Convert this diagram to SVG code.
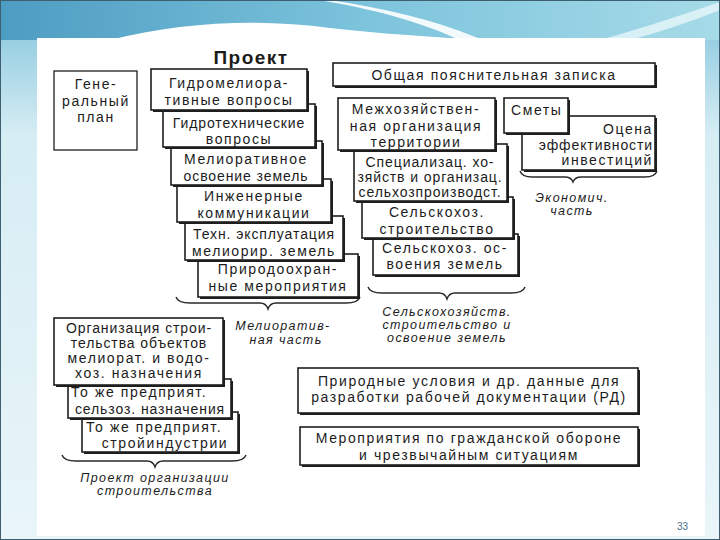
<svg xmlns="http://www.w3.org/2000/svg" width="720" height="540" viewBox="0 0 720 540">
<defs>
<linearGradient id="hdr" x1="0" y1="0" x2="1" y2="0">
<stop offset="0" stop-color="#4d9cc2"/>
<stop offset="0.5" stop-color="#7cc3dc"/>
<stop offset="1" stop-color="#a6dbe8"/>
</linearGradient>
<linearGradient id="side" x1="0" y1="0" x2="0" y2="1">
<stop offset="0" stop-color="#7fc2da"/>
<stop offset="0.25" stop-color="#d6edf4"/>
<stop offset="1" stop-color="#e9f5f9"/>
</linearGradient>
<style>
.sh{fill:#1e1e1e}
.bx{fill:#fff;stroke:#1e1e1e;stroke-width:1.6}
.t{font-family:"Liberation Sans",Arial,sans-serif;font-size:14px;fill:#1c1c1c;letter-spacing:1.6px}
.c{text-anchor:middle}
.r{text-anchor:end}
.n{letter-spacing:0.9px}
.i{font-style:italic;font-size:12.5px;letter-spacing:1.4px}
.br{fill:none;stroke:#2a2a2a;stroke-width:1.4}
</style>
</defs>
<!-- slide background -->
<rect x="0" y="0" width="720" height="540" fill="url(#side)"/>
<rect x="0" y="0" width="720" height="40" fill="url(#hdr)"/>
<path d="M330,0 C380,8 430,18 478,38 L455,38 C420,22 370,8 318,0 Z" fill="#ffffff" opacity="0.9"/>
<path d="M110,40 C180,22 260,18 330,28 C380,34 430,36 470,40 Z" fill="#ffffff"/>
<path d="M600,40 C650,26 690,12 720,2 L720,10 C690,22 660,32 630,40 Z" fill="#e6f6fa" opacity="0.8"/>
<rect x="37" y="38" width="668" height="498" fill="#ffffff"/>
<rect x="0.5" y="0.5" width="719" height="539" fill="none" stroke="#3d5f70" stroke-width="1"/>

<text class="t c" x="251" y="64" style="font-size:19px;font-weight:bold;letter-spacing:1.5px">Проект</text>

<g id="braces">
<path class="br" d="M176,297 Q178,303 190,303 L260,303 Q266,303 268,309 Q270,303 276,303 L346,303 Q358,303 360,297"/>
<path class="br" d="M368,287 Q370,293 382,293 L439,293 Q445,293 447,299 Q449,293 455,293 L511,293 Q523,293 525,287"/>
<path class="br" d="M520,171 Q522,177 532,177 L565,177 Q571,177 573,182 Q575,177 581,177 L645,177 Q655,177 657,171"/>
<path class="br" d="M62,455 Q64,461 76,461 L147,461 Q153,461 155,467 Q157,461 163,461 L232,461 Q244,461 246,455"/>
</g>

<g id="genplan">
<rect class="bx" x="54" y="71" width="83" height="79" style="stroke-width:1.3"/>
<text class="t c" x="96" y="89">Гене-</text>
<text class="t c" x="96" y="106">ральный</text>
<text class="t c" x="96" y="122">план</text>
</g>

<!-- meliorative stack, drawn bottom first -->
<g id="prirodoohr">
<rect class="sh" x="200" y="256" width="160" height="43"/>
<rect class="bx" x="198" y="254" width="160" height="43"/>
<text class="t c" x="278" y="274">Природоохран-</text>
<text class="t c" x="278" y="291">ные мероприятия</text>
</g>
<g id="tekhn">
<rect class="sh" x="187" y="218" width="158" height="44"/>
<rect class="bx" x="185" y="216" width="158" height="44"/>
<text class="t c n" x="264" y="239">Техн. эксплуатация</text>
<text class="t c" x="264" y="256">мелиорир. земель</text>
</g>
<g id="inzh">
<rect class="sh" x="179" y="181" width="154" height="43"/>
<rect class="bx" x="177" y="179" width="154" height="43"/>
<text class="t c" x="254" y="201">Инженерные</text>
<text class="t c" x="254" y="218">коммуникации</text>
</g>
<g id="meliosv">
<rect class="sh" x="173" y="143" width="151" height="44"/>
<rect class="bx" x="171" y="141" width="151" height="44"/>
<text class="t c" x="246" y="164">Мелиоративное</text>
<text class="t c n" x="246" y="181">освоение земель</text>
</g>
<g id="gidrotekh">
<rect class="sh" x="165" y="106" width="152" height="43"/>
<rect class="bx" x="163" y="104" width="152" height="43"/>
<text class="t c n" x="239" y="128">Гидротехнические</text>
<text class="t c" x="239" y="144">вопросы</text>
</g>
<g id="gidromelio">
<rect class="sh" x="153" y="71" width="156" height="41"/>
<rect class="bx" x="151" y="69" width="156" height="41"/>
<text class="t c" x="229" y="88">Гидромелиора-</text>
<text class="t c" x="229" y="105">тивные вопросы</text>
</g>

<g id="zapiska">
<rect class="sh" x="335" y="65" width="322" height="23"/>
<rect class="bx" x="333" y="63" width="322" height="23"/>
<text class="t c" x="494" y="80">Общая пояснительная записка</text>
</g>

<!-- agricultural stack -->
<g id="selkhozosv">
<rect class="sh" x="375" y="236" width="145" height="41"/>
<rect class="bx" x="373" y="234" width="145" height="41"/>
<text class="t c" x="445" y="253">Сельскохоз. ос-</text>
<text class="t c" x="445" y="269">воения земель</text>
</g>
<g id="selkhozstr">
<rect class="sh" x="364" y="199" width="151" height="41"/>
<rect class="bx" x="362" y="197" width="151" height="41"/>
<text class="t c" x="437" y="217">Сельскохоз.</text>
<text class="t c" x="437" y="234">строительство</text>
</g>
<g id="specializ">
<rect class="sh" x="356" y="146" width="153" height="57"/>
<rect class="bx" x="354" y="144" width="153" height="57"/>
<text class="t c n" x="430" y="167">Специализац. хо-</text>
<text class="t c n" x="430" y="182">зяйств и организац.</text>
<text class="t c n" x="430" y="197">сельхозпроизводст.</text>
</g>
<g id="mezhkhoz">
<rect class="sh" x="340" y="100" width="157" height="52"/>
<rect class="bx" x="338" y="98" width="157" height="52"/>
<text class="t c" x="416" y="114">Межхозяйствен-</text>
<text class="t c" x="416" y="131">ная организация</text>
<text class="t c" x="416" y="147">территории</text>
</g>

<!-- economic part -->
<g id="ocenka">
<rect class="sh" x="524" y="118" width="133" height="54"/>
<rect class="bx" x="522" y="116" width="133" height="54"/>
<text class="t r" x="653" y="134">Оцена</text>
<text class="t r n" x="653" y="150">эффективности</text>
<text class="t r" x="653" y="165">инвестиций</text>
</g>
<g id="smety">
<rect class="sh" x="506" y="100" width="64" height="35"/>
<rect class="bx" x="504" y="98" width="64" height="35"/>
<text class="t" x="511" y="115">Сметы</text>
</g>

<!-- construction organisation stack -->
<g id="stroyind">
<rect class="sh" x="84" y="414" width="156" height="40"/>
<rect class="bx" x="82" y="412" width="156" height="40"/>
<text class="t" x="86" y="432">То же предприят.</text>
<text class="t c" x="165" y="448">стройиндустрии</text>
</g>
<g id="selzoz">
<rect class="sh" x="70" y="381" width="163" height="39"/>
<rect class="bx" x="68" y="379" width="163" height="39"/>
<text class="t" x="71" y="397">То же предприят.</text>
<text class="t c n" x="150" y="414">сельзоз. назначения</text>
</g>
<g id="orgstroy">
<rect class="sh" x="56" y="320" width="169" height="67"/>
<rect class="bx" x="54" y="318" width="169" height="67"/>
<text class="t c n" x="139" y="333">Организация строи-</text>
<text class="t c n" x="139" y="348">тельства объектов</text>
<text class="t c" x="139" y="363">мелиорат. и водо-</text>
<text class="t c" x="139" y="378">хоз. назначения</text>
</g>

<g id="prirusl">
<rect class="sh" x="300" y="370" width="340" height="45"/>
<rect class="bx" x="298" y="368" width="340" height="45"/>
<text class="t c" x="469" y="386">Природные условия и др. данные для</text>
<text class="t c" x="469" y="402">разработки рабочей документации  (РД)</text>
</g>
<g id="grob">
<rect class="sh" x="302" y="429" width="338" height="38"/>
<rect class="bx" x="300" y="427" width="338" height="38"/>
<text class="t c" x="469" y="443">Мероприятия по гражданской обороне</text>
<text class="t c" x="469" y="460">и чрезвычайным ситуациям</text>
</g>

<!-- italic labels -->
<g id="lbl-melio">
<text class="t c i" x="283" y="330">Мелиоратив-</text>
<text class="t c i" x="286" y="344">ная часть</text>
</g>
<g id="lbl-selkhoz">
<text class="t c i" x="447" y="316">Сельскохозяйств.</text>
<text class="t c i" x="447" y="329">строительство и</text>
<text class="t c i" x="447" y="342">освоение земель</text>
</g>
<g id="lbl-econ">
<text class="t c i" x="572" y="202">Экономич.</text>
<text class="t c i" x="572" y="215">часть</text>
</g>
<g id="lbl-pos">
<text class="t c i" x="155" y="482">Проект организации</text>
<text class="t c i" x="155" y="495">строительства</text>
</g>

<text x="677" y="530" style="font-family:'Liberation Sans',Arial,sans-serif;font-size:10px;fill:#4a6f8a">33</text>
</svg>
